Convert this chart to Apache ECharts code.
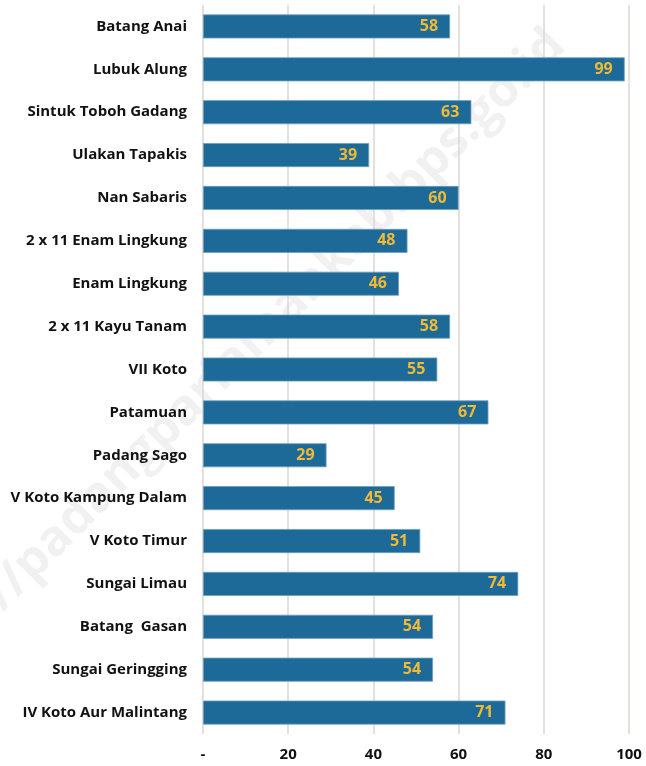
<!DOCTYPE html>
<html lang="id">
<head>
    <meta charset="UTF-8">
    <title>Chart</title>
    <script src="https://cdn.jsdelivr.net/npm/echarts@6/dist/echarts.min.js"></script>
    <style>
        body { margin: 0; background: #fff; }
        #chart { width: 646px; height: 766px; }
    </style>
</head>
<body>
<div id="chart"></div>
<script>
    // kecamatan, dari atas ke bawah
    const categories = [
        'Batang Anai', 'Lubuk Alung', 'Sintuk Toboh Gadang', 'Ulakan Tapakis',
        'Nan Sabaris', '2 x 11 Enam Lingkung', 'Enam Lingkung', '2 x 11 Kayu Tanam',
        'VII Koto', 'Patamuan', 'Padang Sago', 'V Koto Kampung Dalam',
        'V Koto Timur', 'Sungai Limau', 'Batang  Gasan', 'Sungai Geringging',
        'IV Koto Aur Malintang'
    ];
    const values = [58, 99, 63, 39, 60, 48, 46, 58, 55, 67, 29, 45, 51, 74, 54, 54, 71];
    const xTicks = ['-', '20', '40', '60', '80', '100'];

    const font = "'Open Sans', 'Noto Sans', sans-serif";

    var chart = echarts.init(document.getElementById('chart'));
    chart.setOption({
        animation: false,
        grid: {left: 203, right: 17, top: 5, bottom: 32, containLabel: false},
        xAxis: {
            type: 'value',
            min: 0, max: 100, interval: 20,
            axisLine: {show: false},
            axisTick: {show: false},
            splitLine: {lineStyle: {color: '#dcd6d3', width: 1.5}},
            axisLabel: {
                margin: 13,
                color: '#111',
                fontFamily: font,
                fontWeight: 'bold',
                fontSize: 15,
                formatter: v => xTicks[v / 20]
            }
        },
        yAxis: {
            type: 'category',
            data: categories,
            inverse: true,
            axisLine: {show: false},
            axisTick: {show: false},
            axisLabel: {
                margin: 16,
                color: '#111',
                fontFamily: font,
                fontWeight: 'bold',
                fontSize: 15
            }
        },
        graphic: [{
            type: 'text',
            z: -10,
            x: 275, y: 320,
            rotation: Math.PI / 4,
            style: {
                text: '//padangpariamankab.bps.go.id',
                fill: 'rgba(0,0,0,0.055)',
                font: "bold 50px 'Open Sans', sans-serif",
                align: 'center',
                verticalAlign: 'middle'
            }
        }],
        series: [{
            type: 'bar',
            data: values,
            barWidth: '56%',
            itemStyle: {color: '#1d6a98', borderColor: '#6f9fbf', borderWidth: 0.8},
            label: {
                show: true,
                position: 'insideRight',
                distance: 12,
                color: '#f2b935',
                fontFamily: font,
                fontWeight: 'bold',
                fontSize: 16
            }
        }]
    });
</script>
</body>
</html>
